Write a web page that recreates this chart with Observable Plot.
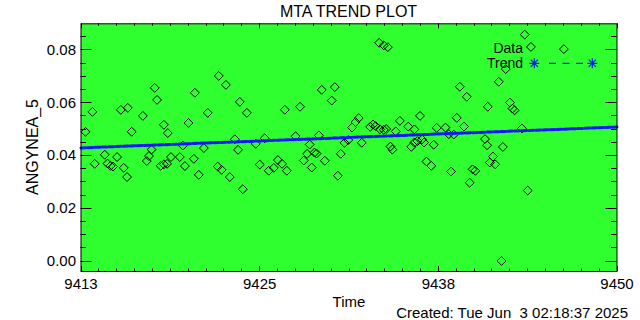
<!DOCTYPE html>
<html><head><meta charset="utf-8">
<script src="https://cdn.jsdelivr.net/npm/d3@7"></script>
<script src="https://cdn.jsdelivr.net/npm/@observablehq/plot@0.6"></script>
<style>
body{margin:0;background:#fff;}
#wrap{position:relative;width:640px;height:320px;overflow:hidden;font-family:"Liberation Sans",Arial,sans-serif;}
#wrap svg{position:absolute;left:0;top:0;}
</style></head><body><div id="wrap"></div>
<script>
const timeX = [9413.31,9413.79,9413.95,9414.64,9414.83,9415.04,9415.21,9415.49,9415.75,9415.95,
9416.18,9416.23,9416.50,9417.27,9417.54,9417.69,9417.87,9418.09,9418.25,9418.50,
9418.72,9418.72,9418.94,9418.99,9419.21,9419.82,9420.03,9420.17,9420.42,9420.79,
9420.86,9421.13,9421.48,9421.75,9422.44,9422.51,9422.71,9423.00,9423.27,9423.62,
9423.84,9423.96,9424.17,9424.45,9425.06,9425.34,9425.68,9425.96,9426.31,9426.59,
9426.88,9427.07,9427.21,9427.81,9428.12,9428.38,9428.61,9428.79,9428.93,9429.12,
9429.26,9429.42,9429.62,9429.83,9430.31,9430.52,9430.73,9430.93,9431.19,9431.45,
9431.71,9431.95,9432.17,9432.38,9432.96,9433.16,9433.34,9433.58,9433.64,9433.90,
9433.90,9434.07,9434.18,9434.36,9434.49,9434.73,9435.01,9435.59,9435.80,9436.01,
9436.02,9436.23,9436.40,9436.54,9436.68,9436.85,9437.18,9437.35,9437.55,9438.16,
9438.39,9438.54,9438.73,9438.94,9439.15,9439.44,9439.63,9439.83,9440.03,9440.22,
9440.89,9441.03,9441.08,9441.22,9441.44,9441.59,9441.84,9442.03,9442.12,9442.32,
9442.61,9442.79,9442.93,9443.44,9443.63,9443.84,9444.06,9446.33];
const valueY = [0.04898,0.05655,0.03687,0.04031,0.03698,0.03611,0.03584,0.03944,0.05731,0.03535,
0.03187,0.05806,0.04902,0.05503,0.03793,0.03982,0.04228,0.06563,0.06109,0.03611,
0.05167,0.03668,0.03687,0.04852,0.03944,0.03944,0.04379,0.03603,0.05235,0.03876,
0.06378,0.03270,0.04285,0.05617,0.03584,0.07017,0.03459,0.06677,0.03187,0.04618,
0.04217,0.06033,0.02725,0.05617,0.04444,0.03660,0.04656,0.03425,0.03535,0.03830,
0.03687,0.05734,0.03425,0.04731,0.05848,0.03812,0.04065,0.04417,0.03547,0.04114,
0.04076,0.04765,0.06488,0.03804,0.06083,0.06593,0.03236,0.04065,0.04481,0.04588,
0.05061,0.05269,0.05420,0.04485,0.05087,0.05174,0.05117,0.08270,0.04996,0.08172,
0.04974,0.05004,0.08107,0.04341,0.04228,0.04917,0.05314,0.05098,0.04330,0.04992,
0.04493,0.04550,0.05503,0.04614,0.04493,0.03774,0.03611,0.04410,0.05049,0.05061,
0.04811,0.03395,0.04796,0.05428,0.06605,0.05098,0.06226,0.02971,0.03478,0.03422,
0.04625,0.04391,0.05848,0.03736,0.03963,0.03668,0.06794,0.00010,0.04326,0.07275,
0.06007,0.05780,0.05712,0.05023,0.08581,0.02676,0.08115,0.08032];
const trendX = [9413, 9450];
const trendY = [0.0429, 0.0508];
const xTickValues = [9413, 9425.3333, 9437.6667, 9450];
const xTickLabels = ["9413", "9425", "9438", "9450"];
const yTickValues = [0, 0.02, 0.04, 0.06, 0.08];
const yTickLabels = ["0.00", "0.02", "0.04", "0.06", "0.08"];
const titleText = "MTA TREND PLOT";
const xLabel = "Time";
const yLabel = "ANGYNEA_5";
const captionText = "Created: Tue Jun  3 02:18:37 2025";
const legendLabels = ["Data", "Trend"];

const W = 640, H = 320, mL = 80.5, mR = 23.5, mT = 23.3, mB = 49;
const xMinor = d3.range(0, 31).map(i => 9413 + i * 37 / 30);
const yMinor = d3.range(0, 18).map(i => i * 0.005);
const points = timeX.map((t, i) => ({t, v: valueY[i]}));
const trend = trendX.map((t, i) => ({t, v: trendY[i]}));

const chart = Plot.plot({
  width: W, height: H, marginLeft: mL, marginRight: mR, marginTop: mT, marginBottom: mB,
  style: {background: "transparent", fontFamily: "Liberation Sans, Arial, sans-serif", fontSize: "15px", color: "black"},
  x: {domain: [9413, 9450]},
  y: {domain: [-0.0039, 0.0899]},
  marks: [
    Plot.frame({fill: "#2fff2f"}),
    Plot.dot(points, {x: "t", y: "v", symbol: "diamond2", r: 4, stroke: "black", strokeWidth: 1, fill: "none"}),
    Plot.line(trend, {x: "t", y: "v", stroke: "#1414ff", strokeWidth: 3, strokeDasharray: "5,2"}),
    Plot.axisX({ticks: xTickValues, tickFormat: d => xTickLabels[xTickValues.indexOf(d)], tickSize: 0, tickPadding: 7, label: null, fontSize: 15}),
    Plot.axisY({ticks: yTickValues, tickFormat: d => yTickLabels[yTickValues.indexOf(d)], tickSize: 0, tickPadding: 5, label: null, fontSize: 15}),
    Plot.frame({stroke: "black", strokeWidth: 1})
  ]
});
const wrap = document.getElementById("wrap");
wrap.appendChild(chart);

const sx = chart.scale("x"), sy = chart.scale("y");
const xLeft = sx.range[0], xRight = sx.range[1];
const yBottom = sy.range[0], yTop = sy.range[1];

const ns = "http://www.w3.org/2000/svg";
const ov = document.createElementNS(ns, "svg");
ov.setAttribute("width", W); ov.setAttribute("height", H);
ov.setAttribute("font-family", "Liberation Sans, Arial, sans-serif");
function seg(ax, ay, bx, by, color, w, dash) {
  const l = document.createElementNS(ns, "line");
  l.setAttribute("x1", ax); l.setAttribute("y1", ay); l.setAttribute("x2", bx); l.setAttribute("y2", by);
  l.setAttribute("stroke", color || "black"); l.setAttribute("stroke-width", w || 1);
  if (dash) l.setAttribute("stroke-dasharray", dash);
  ov.appendChild(l);
}
for (const v of xMinor) {
  const px = Math.round(sx.apply(v)) + 0.5;
  const isMajor = xTickValues.some(m => Math.abs(m - v) < 1e-3);
  const len = isMajor ? 5 : 2.5;
  seg(px, yBottom, px, yBottom - len);
  seg(px, yTop, px, yTop + len);
}
for (const v of yMinor) {
  const py = Math.round(sy.apply(v)) + 0.5;
  const isMajor = yTickValues.some(m => Math.abs(m - v) < 1e-6);
  const len = isMajor ? 11 : 5.5;
  seg(xLeft, py, xLeft + len, py);
  seg(xRight, py, xRight - len, py);
}
function txt(s, x, y, size, anchor, extra) {
  const t = document.createElementNS(ns, "text");
  t.textContent = s;
  t.setAttribute("x", x); t.setAttribute("y", y);
  t.setAttribute("font-size", size);
  t.setAttribute("text-anchor", anchor);
  t.setAttribute("fill", "black");
  t.setAttribute("style", "white-space:pre");
  if (extra) for (const k in extra) t.setAttribute(k, extra[k]);
  ov.appendChild(t);
  return t;
}
txt(titleText, 348.5, 16.7, 16, "middle");
txt(xLabel, 349, 306.5, 15, "middle");
txt(captionText, 628, 317.5, 15, "end");
txt(yLabel, 0, 0, 16, "middle", {transform: "translate(37.5,147) rotate(-90)"});
txt(legendLabels[0], 523, 52.8, 14, "end");
txt(legendLabels[1], 523, 67.7, 14, "end");
function star(cx, cy) {
  const p = document.createElementNS(ns, "path");
  const r = 5, d = r * 0.72;
  p.setAttribute("d", `M${cx-r},${cy}H${cx+r}M${cx},${cy-r}V${cy+r}M${cx-d},${cy-d}L${cx+d},${cy+d}M${cx-d},${cy+d}L${cx+d},${cy-d}`);
  p.setAttribute("stroke", "#1414ff"); p.setAttribute("stroke-width", 1.2); p.setAttribute("fill", "none");
  ov.appendChild(p);
}
star(534.3, 63.3); star(592.3, 63.3);
seg(549, 63.3, 583.5, 63.3, "#1414ff", 1.2, "7,6.5");
wrap.appendChild(ov);
</script></body></html>
